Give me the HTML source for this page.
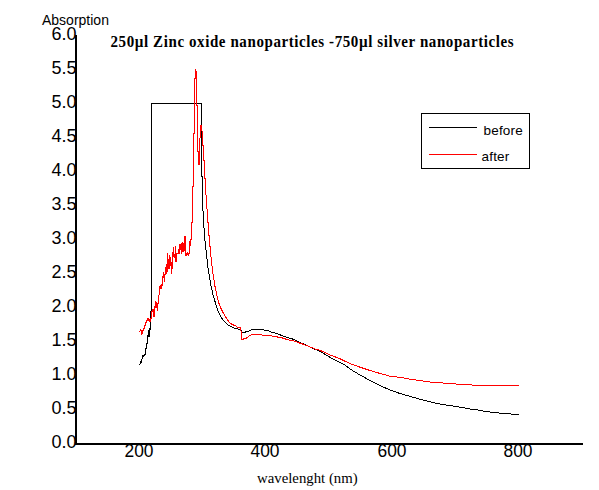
<!DOCTYPE html>
<html><head><meta charset="utf-8"><style>
html,body{margin:0;padding:0;background:#fff;}
body{width:599px;height:490px;position:relative;overflow:hidden;font-family:"Liberation Sans",sans-serif;color:#000;}
.yl{position:absolute;left:30.5px;width:46px;text-align:right;font-size:18px;line-height:20px;height:20px;}
.xl{position:absolute;top:441px;width:60px;text-align:center;font-size:18px;line-height:20px;transform:scaleX(0.965);}
#abs{position:absolute;left:42px;top:12.2px;font-size:14px;line-height:16px;white-space:nowrap;letter-spacing:0px;}
#title{position:absolute;left:110.5px;top:31.85px;font-family:"Liberation Serif",serif;font-weight:bold;font-size:15px;line-height:18px;white-space:nowrap;letter-spacing:0.59px;transform:scaleY(1.085);transform-origin:0 0;}
#xt{position:absolute;left:257px;top:469px;font-family:"Liberation Serif",serif;font-size:14.8px;line-height:18px;white-space:nowrap;}
.lg{position:absolute;font-size:13.5px;letter-spacing:0.2px;line-height:16px;white-space:nowrap;}
svg{position:absolute;left:0;top:0;}
</style></head><body>
<svg width="599" height="490" viewBox="0 0 599 490" shape-rendering="crispEdges">
<rect x="75" y="35" width="2" height="410" fill="#000"/>
<rect x="75" y="443" width="508" height="2" fill="#000"/>
<rect x="421.5" y="113.5" width="108" height="55" fill="none" stroke="#000" stroke-width="1"/>
<line x1="429" y1="127.5" x2="477" y2="127.5" stroke="#000" stroke-width="1"/>
<line x1="429" y1="154.5" x2="477" y2="154.5" stroke="#f00" stroke-width="1"/>
<g id="curves" fill="none" stroke-width="1">
<polyline stroke="#000" points="151.5,311.5 151.5,103.5 201.5,103.5 201.5,176.5 202.4,177 202.4,210.7 203.6,211.1 203.6,227.4 204.5,228.3 204.5,240.5 205.5,241.3 205.5,249.4 206.4,250.3 206.4,258.4 207.4,259.2 207.4,267.7 208.4,268.1 208.4,273.8 209.5,274.2 209.5,279.9 210.3,280.3 210.5,285.6 211.4,286.4 212.2,291.3 213.1,295.4 214.4,299.5 215.4,302.8 216.8,307.6 218.7,312.4 221.1,317.2 224,321 227.3,324.4 230,326.2 231.6,326.4 232.4,327.4 234,327.7 234.5,328.5 237.7,328.6 238.2,329.4 239.8,329.6 240.3,330.3 241.4,330.7 241.9,332.3 245.4,332.4 245.9,331.5 248.6,331.5 249.1,330.6 250.7,330.5 251.2,329.4 263.4,329.1 264.3,330.3 268.5,330.5 269.3,331.4 272.2,332.4 276.4,333.4 281.4,335.4 286.4,337.2 292.2,338.9 295.6,340.4 299.2,342.1 303.3,343.8 307.5,345.9 311.7,347.9 315.9,349.6 320,351.3 324.2,353.8 328.4,356.3 332.6,358.8 336.7,360.9 340.9,363 344.2,364.6 350,369 360,375 370.1,380.5 380.1,385.6 390.1,390.1 400,393.5 410,396.3 420,399.3 430.1,401.9 440.1,404.1 450.1,405.6 460,407.1 470,409 478,410 485,411.3 493,412.5 502,413.3 513,414.2 519,414.5"/>
<g fill="#000"><rect x="139" y="364" width="1" height="1"/><rect x="140" y="361" width="1" height="3"/><rect x="141" y="359" width="1" height="4"/><rect x="142" y="355" width="1" height="4"/><rect x="143" y="355" width="1" height="2"/><rect x="144" y="354" width="1" height="2"/><rect x="145" y="348" width="1" height="7"/><rect x="146" y="343" width="1" height="6"/><rect x="147" y="335" width="1" height="9"/><rect x="148" y="330" width="1" height="7"/><rect x="149" y="328" width="1" height="9"/><rect x="150" y="311" width="1" height="19"/></g>
<polyline stroke="#f00" points="191.5,222.5 192.3,222.2 192.3,187 193.3,186.4 193.3,133.7 194.3,133.3 194.3,78 195.3,78 195.3,69 195.8,69 196.3,73 196.5,105.5 197.4,106 197.4,151.8 198.6,152 198.6,164.5 199.5,164 199.7,138 200.5,137.6 200.5,125.2 201.5,125.2 202,131 202.5,145.7 203.4,146 203.4,160.6 204.4,160.8 204.4,178.6 205.4,179 205.4,194.6 206.6,195.1 206.6,208.9 207.5,209.3 207.7,222.6 208.6,223.1 208.4,235.6 209.4,236 209.4,246.6 210.4,247 210.4,256.8 211.4,257.2 211.4,265.7 212.3,266.1 212.3,273.8 213.4,274.2 213.4,279.9 214.4,280.3 214.4,286 215.4,286.4 215.4,290.5 216.4,291.3 216.6,295.8 217.6,296.2 218,300.3 218.7,302.8 220.6,307.6 223,312.4 225.4,316.7 228.3,321 230,323.3 231.1,323.5 231.6,324.4 233.2,324.6 233.7,325.4 235.6,325.7 236.1,326.4 236.9,326.6 237.4,327.4 240.3,327.4 240.6,330.2 241.4,331.3 241.4,339.5 243.5,339.5 244.1,338.4 246.4,338.4 247,337.6 248.3,336.6 250.2,335.5 251.8,334.7 252.3,334.4 261.4,334.4 262.2,335.4 271.4,335.5 272.2,336.2 277.2,336.5 278,337.4 282.2,337.9 283.9,338.5 286.4,339.3 289.7,340.1 293.9,341 299.2,342.9 303.3,344.3 307.5,345.9 311.7,347.5 315.9,349.2 320,350.4 324.2,352.1 328.4,354.2 332.6,355.9 336.7,357.5 340.9,359.2 344.2,360.9 350,363.5 360,367.2 370.1,370.5 380.1,373.5 390.1,376.2 400,377.3 410,379.2 420,380.5 430.1,382 440.1,382.8 450.1,383.5 460,384.3 471.7,384.3 472.3,385.5 519,385.5"/>
<g fill="#f00"><rect x="139" y="331" width="1" height="1"/><rect x="140" y="329" width="1" height="2"/><rect x="141" y="330" width="1" height="5"/><rect x="142" y="330" width="1" height="4"/><rect x="143" y="328" width="1" height="3"/><rect x="144" y="325" width="1" height="4"/><rect x="145" y="322" width="1" height="4"/><rect x="146" y="320" width="1" height="3"/><rect x="147" y="318" width="1" height="3"/><rect x="148" y="318" width="1" height="3"/><rect x="149" y="319" width="1" height="3"/><rect x="150" y="318" width="1" height="4"/><rect x="151" y="311" width="1" height="8"/><rect x="152" y="309" width="1" height="3"/><rect x="153" y="309" width="1" height="8"/><rect x="154" y="306" width="1" height="11"/><rect x="155" y="301" width="1" height="7"/><rect x="156" y="302" width="1" height="6"/><rect x="157" y="303" width="1" height="8"/><rect x="158" y="295" width="1" height="9"/><rect x="159" y="286" width="1" height="9"/><rect x="160" y="285" width="1" height="4"/><rect x="161" y="284" width="1" height="5"/><rect x="162" y="276" width="1" height="10"/><rect x="163" y="272" width="1" height="6"/><rect x="164" y="274" width="1" height="8"/><rect x="165" y="267" width="1" height="8"/><rect x="166" y="264" width="1" height="10"/><rect x="167" y="253" width="1" height="19"/><rect x="168" y="259" width="1" height="10"/><rect x="169" y="255" width="1" height="14"/><rect x="170" y="257" width="1" height="9"/><rect x="171" y="262" width="1" height="12"/><rect x="172" y="252" width="1" height="17"/><rect x="173" y="247" width="1" height="10"/><rect x="174" y="254" width="1" height="4"/><rect x="175" y="246" width="1" height="16"/><rect x="176" y="253" width="1" height="9"/><rect x="177" y="253" width="1" height="1"/><rect x="178" y="249" width="1" height="5"/><rect x="179" y="244" width="1" height="10"/><rect x="180" y="244" width="1" height="6"/><rect x="181" y="243" width="1" height="11"/><rect x="182" y="242" width="1" height="10"/><rect x="183" y="243" width="1" height="9"/><rect x="184" y="236" width="1" height="15"/><rect x="185" y="236" width="1" height="20"/><rect x="186" y="253" width="1" height="3"/><rect x="187" y="252" width="1" height="3"/><rect x="188" y="253" width="1" height="3"/><rect x="189" y="241" width="1" height="13"/><rect x="190" y="239" width="1" height="7"/><rect x="191" y="222" width="1" height="18"/></g>
</g>
</svg>
<div id="abs">Absorption</div>
<div id="title">250µl Zinc oxide nanoparticles -750µl silver nanoparticles</div>
<div class="yl" style="top:431.6px">0.0</div>
<div class="yl" style="top:397.6px">0.5</div>
<div class="yl" style="top:363.6px">1.0</div>
<div class="yl" style="top:329.6px">1.5</div>
<div class="yl" style="top:295.6px">2.0</div>
<div class="yl" style="top:261.6px">2.5</div>
<div class="yl" style="top:227.6px">3.0</div>
<div class="yl" style="top:193.6px">3.5</div>
<div class="yl" style="top:159.6px">4.0</div>
<div class="yl" style="top:125.6px">4.5</div>
<div class="yl" style="top:91.6px">5.0</div>
<div class="yl" style="top:57.6px">5.5</div>
<div class="yl" style="top:23.6px">6.0</div>
<div class="xl" style="left:109.0px">200</div>
<div class="xl" style="left:235.3px">400</div>
<div class="xl" style="left:361.7px">600</div>
<div class="xl" style="left:488.0px">800</div>
<div class="lg" style="left:483.5px;top:123px">before</div>
<div class="lg" style="left:481.5px;top:149px">after</div>
<div id="xt">wavelenght (nm)</div>
</body></html>
